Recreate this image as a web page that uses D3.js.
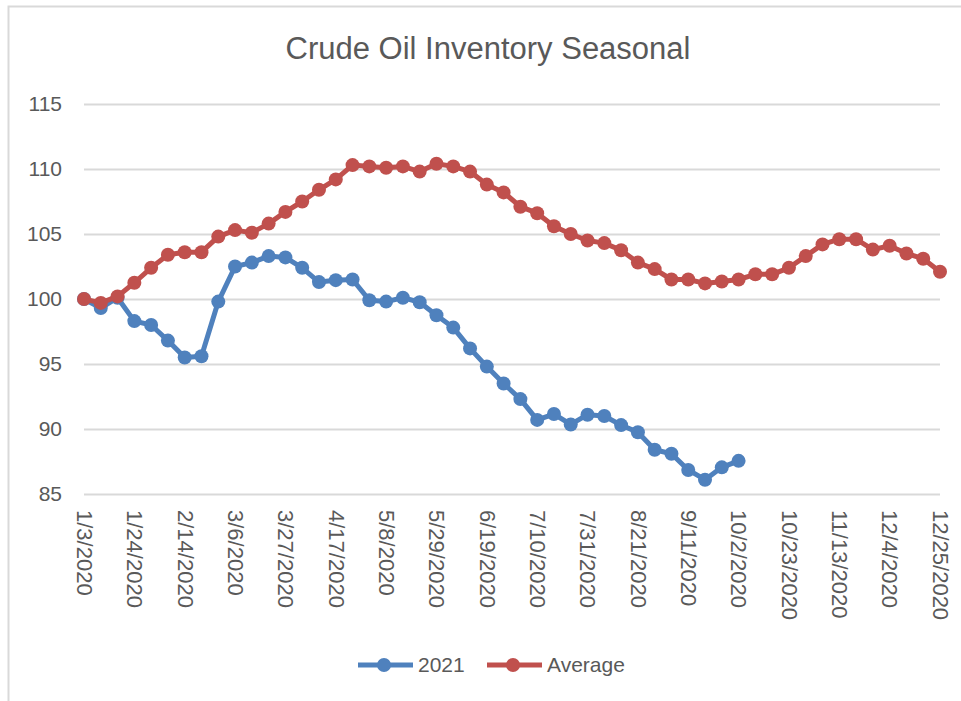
<!DOCTYPE html>
<html>
<head>
<meta charset="utf-8">
<script src="https://cdn.jsdelivr.net/npm/d3@7"></script>
<style>
  body { margin: 0; background: #fff; }
  svg text { font-family: "Liberation Sans", Arial, sans-serif; fill: #595959; }
</style>
</head>
<body>
<svg id="chart" width="961" height="701"></svg>
<script>
// weekly dates (categories)
var dates = ['1/3/2020','1/10/2020','1/17/2020','1/24/2020','1/31/2020','2/7/2020','2/14/2020','2/21/2020','2/28/2020',
  '3/6/2020','3/13/2020','3/20/2020','3/27/2020','4/3/2020','4/10/2020','4/17/2020','4/24/2020',
  '5/1/2020','5/8/2020','5/15/2020','5/22/2020','5/29/2020','6/5/2020','6/12/2020','6/19/2020','6/26/2020',
  '7/3/2020','7/10/2020','7/17/2020','7/24/2020','7/31/2020','8/7/2020','8/14/2020','8/21/2020','8/28/2020',
  '9/4/2020','9/11/2020','9/18/2020','9/25/2020','10/2/2020','10/9/2020','10/16/2020','10/23/2020','10/30/2020',
  '11/6/2020','11/13/2020','11/20/2020','11/27/2020','12/4/2020','12/11/2020','12/18/2020','12/25/2020'];

var tickLabels = ['1/3/2020','1/24/2020','2/14/2020','3/6/2020','3/27/2020','4/17/2020','5/8/2020','5/29/2020','6/19/2020',
  '7/10/2020','7/31/2020','8/21/2020','9/11/2020','10/2/2020','10/23/2020','11/13/2020','12/4/2020','12/25/2020'];

var yTicks = [85, 90, 95, 100, 105, 110, 115];

var series2021 = [100.0, 99.3, 100.1, 98.3, 98.0, 96.8, 95.5, 95.6, 99.8, 102.5,
  102.8, 103.3, 103.2, 102.4, 101.3, 101.45, 101.5, 99.9, 99.8, 100.1,
  99.75, 98.75, 97.8, 96.2, 94.8, 93.5, 92.3, 90.7, 91.15, 90.35,
  91.1, 91.0, 90.3, 89.75, 88.4, 88.1, 86.85, 86.1, 87.05, 87.55];

var seriesAvg = [100.0, 99.7, 100.2, 101.25, 102.4, 103.4, 103.6, 103.6, 104.8, 105.3,
  105.1, 105.8, 106.7, 107.5, 108.4, 109.2, 110.3, 110.2, 110.1, 110.2,
  109.8, 110.4, 110.2, 109.8, 108.8, 108.2, 107.1, 106.6, 105.6, 105.0,
  104.5, 104.3, 103.75, 102.8, 102.3, 101.5, 101.5, 101.2, 101.35, 101.5,
  101.9, 101.9, 102.4, 103.3, 104.2, 104.6, 104.6, 103.8, 104.1, 103.5,
  103.1, 102.1];

var names = ['2021', 'Average'];
var colors = ['#4f81bd', '#c0504d'];

var svg = d3.select('#chart');

// outer chart border
svg.append('rect')
  .attr('x', 8.5).attr('y', 6.5)
  .attr('width', 1000).attr('height', 1000)
  .attr('fill', 'none').attr('stroke', '#d9d9d9').attr('stroke-width', 2);

var x = d3.scalePoint().domain(dates).range([84, 940]);
var y = d3.scaleLinear().domain([85, 115]).range([494, 104]);

svg.append('text')
  .attr('x', 488).attr('y', 59)
  .attr('text-anchor', 'middle')
  .style('font-size', '31px')
  .text('Crude Oil Inventory Seasonal');

// y axis + gridlines
var yAxis = svg.append('g')
  .attr('transform', 'translate(84,0)')
  .call(d3.axisLeft(y).tickValues(yTicks).tickSize(-856).tickPadding(22));
yAxis.select('.domain').remove();
yAxis.selectAll('line').attr('stroke', '#d9d9d9').attr('stroke-width', 2);
yAxis.selectAll('text').style('font-size', '21px').attr('fill', '#595959');

// x axis labels
var xAxis = svg.append('g')
  .attr('transform', 'translate(0,494)')
  .call(d3.axisBottom(x).tickValues(tickLabels).tickSize(0));
xAxis.select('.domain').remove();
xAxis.selectAll('text')
  .style('font-size', '22px')
  .attr('fill', '#595959')
  .attr('text-anchor', 'start')
  .attr('dy', '0.35em')
  .attr('transform', 'translate(0,16) rotate(90)')
  .attr('y', 0).attr('x', 0);

var line = d3.line()
  .x(function(d, i) { return x(dates[i]); })
  .y(function(d) { return y(d); });

[series2021, seriesAvg].forEach(function(s, k) {
  var g = svg.append('g');
  g.append('path')
    .datum(s)
    .attr('d', line)
    .attr('fill', 'none')
    .attr('stroke', colors[k])
    .attr('stroke-width', 5)
    .attr('stroke-linejoin', 'round');
  g.selectAll('circle')
    .data(s)
    .enter().append('circle')
    .attr('cx', function(d, i) { return x(dates[i]); })
    .attr('cy', function(d) { return y(d); })
    .attr('r', 7)
    .attr('fill', colors[k]);
});

// legend
var legendX = [358, 487];
names.forEach(function(n, k) {
  var lg = svg.append('g').attr('transform', 'translate(' + legendX[k] + ',665)');
  lg.append('line').attr('x1', 0).attr('x2', 55)
    .attr('stroke', colors[k]).attr('stroke-width', 5);
  lg.append('circle').attr('cx', 26).attr('r', 7).attr('fill', colors[k]);
  lg.append('text').attr('x', 60).attr('dy', '0.35em')
    .style('font-size', '21px').text(n);
});
</script>
</body>
</html>
